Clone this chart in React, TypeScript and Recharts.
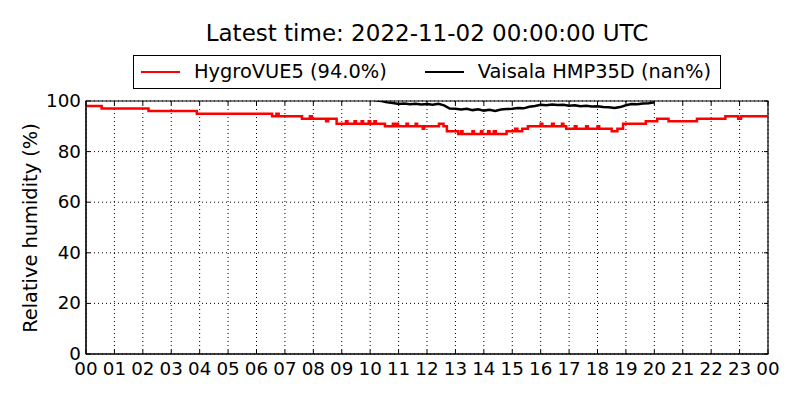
import { LineChart, Line, XAxis, YAxis, CartesianGrid, Legend, ReferenceArea } from 'recharts';

// HygroVUE5, hours since 00 UTC and RH (%) at each change of the step line
const hygroTimes = [
  0, 0.55, 2.2, 3.9, 6.55, 6.7, 6.78, 7.6, 7.88, 7.95, 8.45, 8.52, 8.82,
  9.15, 9.2, 9.45, 9.5, 9.7, 9.75, 9.95, 10.0, 10.15, 10.2, 10.52,
  10.8, 10.85, 10.93, 10.98, 11.28, 11.33, 11.6, 11.65, 11.85, 11.9, 12.42, 12.58, 12.7,
  13.1, 13.2, 13.25, 13.6, 13.65, 13.9, 13.95, 14.15, 14.2, 14.35, 14.42, 14.8,
  15.1, 15.18, 15.35, 15.55, 16.0, 16.06, 16.4, 16.46, 16.75, 16.8, 16.9,
  17.2, 17.26, 17.6, 17.66, 18.0, 18.06, 18.5, 18.7, 18.9, 19.7, 20.1, 20.5,
  21.5, 22.5, 22.95, 23.05, 24,
];
const hygroValues = [
  98, 97, 96, 95, 94, 95, 94, 93, 94, 93, 92, 93, 91,
  92, 91, 92, 91, 92, 91, 92, 91, 92, 91, 90,
  91, 90, 91, 90, 91, 90, 91, 90, 89, 90, 91, 90, 88,
  87, 88, 87, 88, 87, 88, 87, 88, 87, 88, 87, 88,
  89, 88, 89, 90, 91, 90, 91, 90, 91, 90, 89,
  90, 89, 90, 89, 90, 89, 88, 89, 91, 92, 93, 92,
  93, 94, 93, 94, 94,
];

// Vaisala HMP35D, hours since 00 UTC and RH (%)
const vaisalaTimes = [
  10.0, 10.2, 10.4, 10.6, 10.8, 11.0, 11.2, 11.4, 11.6, 11.8, 12.0, 12.2, 12.4, 12.6,
  12.8, 13.0, 13.2, 13.4, 13.6, 13.8, 14.0, 14.2, 14.4, 14.6, 14.8, 15.0, 15.2, 15.4,
  15.6, 15.8, 16.0, 16.2, 16.4, 16.6, 16.8, 17.0, 17.2, 17.4, 17.6, 17.8, 18.0, 18.2,
  18.4, 18.6, 18.8, 19.0, 19.2, 19.4, 19.6, 19.8, 20.0,
];
const vaisalaValues = [
  100.8, 100.3, 100.0, 99.5, 99.2, 98.8, 99.0, 98.7, 98.9, 98.6, 98.8, 98.5, 98.9, 98.3,
  97.0, 96.9, 96.6, 96.9, 96.4, 96.7, 96.2, 96.5, 96.1, 96.6, 96.8, 96.9, 97.2, 97.1,
  97.7, 98.0, 98.5, 98.3, 98.6, 98.4, 98.5, 98.1, 98.3, 97.9, 98.1, 97.8, 97.9, 97.6,
  97.5, 97.2, 97.6, 98.3, 98.8, 98.7, 99.0, 99.1, 99.5,
];

const hourTicks = [0, 1, 2, 3, 4, 5, 6, 7, 8, 9, 10, 11, 12, 13, 14, 15, 16, 17, 18, 19, 20, 21, 22, 23, 24];
const rhTicks = [0, 20, 40, 60, 80, 100];

const seriesNames = ['HygroVUE5 (94.0%)', 'Vaisala HMP35D (nan%)'];
const seriesColors = ['#ff0000', '#000000'];

const hygroData = hygroTimes.map((t, i) => ({ t, rh: hygroValues[i] }));
const vaisalaData = vaisalaTimes.map((t, i) => ({ t, rh: vaisalaValues[i] }));

const FONT = '"DejaVu Sans", Verdana, sans-serif';
const PLOT_W = 682;
const PLOT_H = 253;
const TICK_FONT = 18.3;

function hourLabel(v: number) {
  return String(v % 24).padStart(2, '0');
}

// bottom tick label plus inward tick marks on bottom and top spines
function BottomTick(props: any) {
  const { x, y, payload } = props;
  return (
    <g>
      <line x1={x} y1={y} x2={x} y2={y - 4} stroke="#000" />
      <line x1={x} y1={y - PLOT_H} x2={x} y2={y - PLOT_H + 4} stroke="#000" />
      <text x={x} y={y + 21} textAnchor="middle" fontSize={TICK_FONT} fontFamily={FONT} fill="#000">
        {hourLabel(payload.value)}
      </text>
    </g>
  );
}

function LeftTick(props: any) {
  const { x, y, payload } = props;
  return (
    <g>
      <line x1={x} y1={y} x2={x + 4} y2={y} stroke="#000" />
      <line x1={x + PLOT_W} y1={y} x2={x + PLOT_W - 4} y2={y} stroke="#000" />
      <text x={x - 5} y={y + 6} textAnchor="end" fontSize={TICK_FONT} fontFamily={FONT} fill="#000">
        {payload.value}
      </text>
    </g>
  );
}

function YLabel() {
  return (
    <text
      x={37}
      y={228}
      transform="rotate(-90 37 228)"
      textAnchor="middle"
      fontSize={19.4}
      fontFamily={FONT}
      fill="#000"
    >
      Relative humidity (%)
    </text>
  );
}

function LegendBox() {
  return (
    <div
      style={{
        boxSizing: 'border-box',
        width: 588,
        height: 34,
        border: '1px solid #000',
        background: '#fff',
        display: 'flex',
        alignItems: 'center',
        paddingLeft: 7,
        fontFamily: FONT,
        fontSize: 19.4,
        lineHeight: 1,
        color: '#000',
      }}
    >
      {seriesNames.map((name, i) => (
        <div key={name} style={{ display: 'flex', alignItems: 'center', marginLeft: i === 0 ? 0 : 38 }}>
          <div style={{ width: 39, height: 2.5, background: seriesColors[i], marginRight: 14 }} />
          <span style={{ whiteSpace: 'nowrap' }}>{name}</span>
        </div>
      ))}
    </div>
  );
}

export default function App() {
  return (
    <div style={{ position: 'absolute', left: 0, top: 0, width: 800, height: 400, background: '#fff' }}>
      <div
        style={{
          position: 'absolute',
          left: 86,
          top: 22,
          width: PLOT_W,
          textAlign: 'center',
          fontFamily: FONT,
          fontSize: 23,
          lineHeight: 1,
          color: '#000',
          whiteSpace: 'nowrap',
        }}
      >
        Latest time: 2022-11-02 00:00:00 UTC
      </div>
      <LineChart width={800} height={400} margin={{ top: 101, right: 32, bottom: 16, left: 46 }}>
        <CartesianGrid stroke="#000" strokeWidth={1} strokeDasharray="1 3" />
        <XAxis
          dataKey="t"
          type="number"
          domain={[0, 24]}
          ticks={hourTicks}
          allowDataOverflow
          height={30}
          tickSize={0}
          tickMargin={0}
          tickLine={false}
          interval={0}
          axisLine={{ stroke: '#000' }}
          tick={<BottomTick />}
        />
        <YAxis
          type="number"
          domain={[0, 100]}
          ticks={rhTicks}
          allowDataOverflow
          width={40}
          tickSize={0}
          tickMargin={0}
          tickLine={false}
          interval={0}
          axisLine={{ stroke: '#000' }}
          tick={<LeftTick />}
        />
        <ReferenceArea x1={0} x2={24} y1={0} y2={100} fill="none" stroke="#000" strokeWidth={1.2} ifOverflow="visible" />
        <Legend
          layout="horizontal"
          verticalAlign="middle"
          align="center"
          wrapperStyle={{ top: 55, left: 133, width: 588, height: 34 }}
          content={() => <LegendBox />}
        />
        <Line
          data={hygroData}
          dataKey="rh"
          name={seriesNames[0]}
          type="stepAfter"
          stroke={seriesColors[0]}
          strokeWidth={2.5}
          dot={false}
          isAnimationActive={false}
        />
        <Line
          data={vaisalaData}
          dataKey="rh"
          name={seriesNames[1]}
          type="linear"
          stroke={seriesColors[1]}
          strokeWidth={2.5}
          dot={false}
          isAnimationActive={false}
        />
        <YLabel />
      </LineChart>
    </div>
  );
}
